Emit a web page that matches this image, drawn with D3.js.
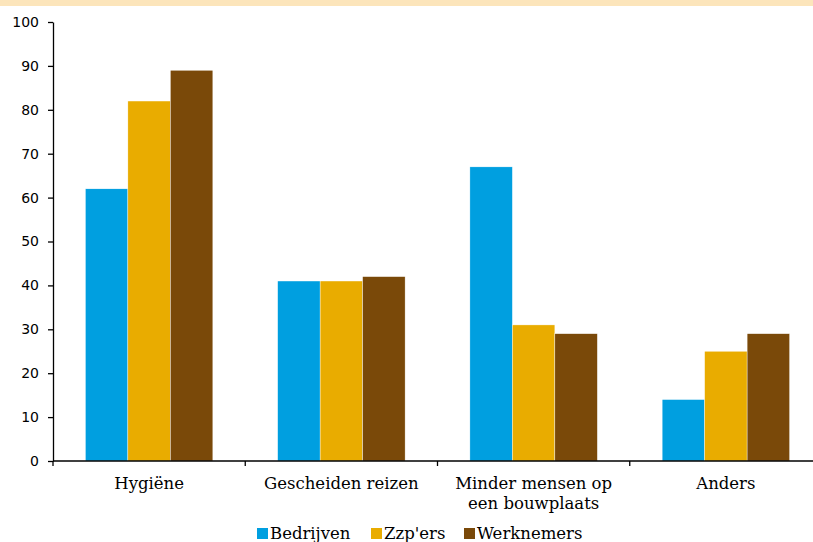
<!DOCTYPE html>
<html><head><meta charset="utf-8">
<script src="https://cdn.jsdelivr.net/npm/d3@7"></script>
<style>body{margin:0;background:#fff;overflow:hidden}svg{display:block}</style>
</head><body><svg id="c" width="813" height="542"></svg>
<script>
const categories = [["Hygiëne"], ["Gescheiden reizen"], ["Minder mensen op", "een bouwplaats"], ["Anders"]];
const seriesNames = ["Bedrijven", "Zzp'ers", "Werknemers"];
const bedrijven = [62, 41, 67, 14];
const zzpers = [82, 41, 31, 25];
const werknemers = [89, 42, 29, 29];
const colors = ["#009fe0", "#e9ac00", "#7a4909"];
const yTicks = [0,10,20,30,40,50,60,70,80,90,100];

(function(){
const values = [bedrijven, zzpers, werknemers];
const svg = d3.select("#c");
svg.append("rect").attr("x",0).attr("y",0).attr("width",813).attr("height",6).attr("fill","#fce5bb");

const mL = 53, mT = 22, mB = 461, mR = 822;
const x = d3.scaleBand().domain(d3.range(categories.length)).range([mL, mR]).paddingInner(0.337).paddingOuter(0.1685);
const x1 = d3.scaleBand().domain(d3.range(seriesNames.length)).range([0, x.bandwidth()]);
const y = d3.scaleLinear().domain([0,100]).range([mB, mT]);

const g = svg.append("g");
seriesNames.forEach((s, si) => {
  g.selectAll(null).data(values[si]).enter().append("rect")
    .attr("x", (d,i) => x(i) + x1(si))
    .attr("y", d => y(d))
    .attr("width", x1.bandwidth())
    .attr("height", d => y(0) - y(d))
    .attr("fill", colors[si])
    .attr("stroke", "#fff").attr("stroke-width", 0.4);
});

const yAxis = svg.append("g").attr("transform", `translate(${mL},0)`)
  .call(d3.axisLeft(y).tickValues(yTicks).tickSize(5).tickSizeOuter(0));
yAxis.select(".domain").attr("stroke","#000").attr("stroke-width",1.3);
yAxis.selectAll(".tick line").attr("stroke","#000").attr("stroke-width",1.3);
yAxis.selectAll("text").attr("font-family","'DejaVu Sans', sans-serif").attr("font-size",14).attr("fill","#000").attr("x",-14);

const xs = d3.scaleLinear().domain([0, categories.length]).range([mL, mR]);
const xAxis = svg.append("g").attr("transform", `translate(0,${mB})`);
xAxis.append("line").attr("x1", mL).attr("x2", mR).attr("stroke","#000").attr("stroke-width",1.3);
xAxis.selectAll(null).data(d3.range(categories.length+1)).enter().append("line")
  .attr("x1", d => xs(d)).attr("x2", d => xs(d)).attr("y1",0).attr("y2",5)
  .attr("stroke","#000").attr("stroke-width",1.3);
const labels = xAxis.selectAll(null).data(categories).enter().append("text")
  .attr("x", (d,i) => x(i) + x.bandwidth()/2)
  .attr("y", 28)
  .attr("text-anchor","middle")
  .attr("font-family","'DejaVu Serif', serif").attr("font-size",16.5).attr("fill","#000");
labels.each(function(d){
  const t = d3.select(this);
  d.forEach((line, k) => t.append("tspan").attr("x", t.attr("x")).attr("dy", k ? 20 : 0).text(line));
});

const legend = svg.append("g").attr("transform","translate(257,539)");
const lx = [0, 114, 207];
seriesNames.forEach((s, i) => {
  legend.append("rect").attr("x", lx[i]).attr("y", -11).attr("width", 11).attr("height", 11).attr("fill", colors[i]);
  legend.append("text").attr("x", lx[i] + 13).attr("y", 0).text(s)
    .attr("font-family","'DejaVu Serif', serif").attr("font-size",16.5).attr("fill","#000");
});
})();
</script></body></html>
